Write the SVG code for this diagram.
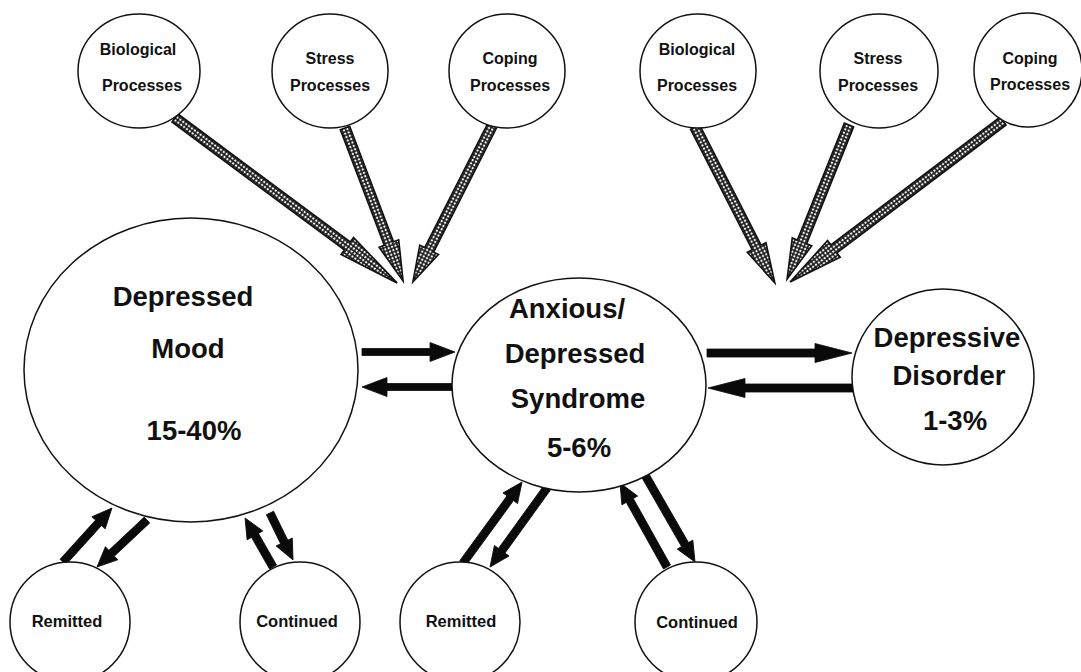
<svg xmlns="http://www.w3.org/2000/svg" width="1081" height="672" viewBox="0 0 1081 672">
  <defs>
    <style>
      .node { fill: #fff; stroke: #111; stroke-width: 1.5; }
      .sm { font-family: "Liberation Sans", Arial, sans-serif; font-weight: bold; font-size: 16px; fill: #111; text-anchor: middle; }
      .bt { font-family: "Liberation Sans", Arial, sans-serif; font-weight: bold; font-size: 16.5px; fill: #111; text-anchor: middle; }
      .lg { font-family: "Liberation Sans", Arial, sans-serif; font-weight: bold; font-size: 27.5px; fill: #111; text-anchor: middle; }
      .solid { fill: #0a0a0a; stroke: #0a0a0a; stroke-width: 0.8; stroke-linejoin: miter; }
      .dotted { fill: url(#dots); stroke: #111; stroke-width: 1.6; stroke-linejoin: miter; }
    </style>
    <!-- stippled fill for the influence arrows -->
    <pattern id="dots" patternUnits="userSpaceOnUse" width="3.6" height="3.6">
      <rect width="3.6" height="3.6" fill="#1c1c1c"/>
      <circle cx="1.8" cy="1.8" r="1.2" fill="#f6f6f6"/>
    </pattern>
  </defs>

  <rect width="1081" height="672" fill="#fff"/>

  <!-- influence arrows and transition arrows -->
  <g id="connectors">
    <!-- stippled arrows from process circles -->
    <g transform="translate(175 118) rotate(36.6)"><polygon class="dotted" points="0,-5 214.6,-5 214.6,-10.5 276.6,0 214.6,10.5 214.6,5 0,5"/></g>
    <g transform="translate(345 128) rotate(69.2)"><polygon class="dotted" points="0,-5 123.6,-5 123.6,-10.5 163.6,0 123.6,10.5 123.6,5 0,5"/></g>
    <g transform="translate(493 124) rotate(116.9)"><polygon class="dotted" points="0,-5 141.1,-5 141.1,-10.5 177.1,0 141.1,10.5 141.1,5 0,5"/></g>
    <g transform="translate(695 127) rotate(62.9)"><polygon class="dotted" points="0,-5 135.3,-5 135.3,-10.5 175.3,0 135.3,10.5 135.3,5 0,5"/></g>
    <g transform="translate(849 125) rotate(111.9)"><polygon class="dotted" points="0,-5 126,-5 126,-10.5 166,0 126,10.5 126,5 0,5"/></g>
    <g transform="translate(1003 121) rotate(142.9)"><polygon class="dotted" points="0,-5 212,-5 212,-10.5 267,0 212,10.5 212,5 0,5"/></g>

    <!-- horizontal transitions -->
    <polygon class="solid" points="362,348.5 430,348.5 430,342.5 455,352 430,361.5 430,355.5 362,355.5"/>
    <polygon class="solid" points="455,383.5 387,383.5 387,377.5 362,387 387,396.5 387,390.5 455,390.5"/>
    <polygon class="solid" points="707,349 815,349 815,343.5 852,353 815,362.5 815,357 707,357"/>
    <polygon class="solid" points="853,384 745,384 745,378.5 708,388 745,397.5 745,392 853,392"/>

    <!-- transitions to remitted / continued -->
    <g transform="translate(63 562) rotate(-47.8)"><polygon class="solid" points="0,-4 52.9,-4 52.9,-9 72.9,0 52.9,9 52.9,4 0,4"/></g>
    <g transform="translate(147 520) rotate(136.8)"><polygon class="solid" points="0,-4 48.6,-4 48.6,-9 68.6,0 48.6,9 48.6,4 0,4"/></g>
    <g transform="translate(273 567) rotate(-119.7)"><polygon class="solid" points="0,-4 36.4,-4 36.4,-9 56.4,0 36.4,9 36.4,4 0,4"/></g>
    <g transform="translate(270 513) rotate(63.9)"><polygon class="solid" points="0,-4 32.3,-4 32.3,-9 52.3,0 32.3,9 32.3,4 0,4"/></g>
    <g transform="translate(463 563) rotate(-53.9)"><polygon class="solid" points="0,-4 80.2,-4 80.2,-9 100.2,0 80.2,9 80.2,4 0,4"/></g>
    <g transform="translate(547 488) rotate(125.8)"><polygon class="solid" points="0,-4 77.4,-4 77.4,-9 97.4,0 77.4,9 77.4,4 0,4"/></g>
    <g transform="translate(667 567) rotate(-119.2)"><polygon class="solid" points="0,-4 76.3,-4 76.3,-9 96.3,0 76.3,9 76.3,4 0,4"/></g>
    <g transform="translate(645 475) rotate(60.1)"><polygon class="solid" points="0,-4 80.3,-4 80.3,-9 100.3,0 80.3,9 80.3,4 0,4"/></g>
  </g>

  <!-- process circles, first group -->
  <g id="bio1">
    <ellipse class="node" cx="139" cy="71" rx="61" ry="57"/>
    <text class="sm" x="138" y="55">Biological</text>
    <text class="sm" x="142" y="91">Processes</text>
  </g>
  <g id="stress1">
    <ellipse class="node" cx="330" cy="71" rx="58" ry="57"/>
    <text class="sm" x="330" y="64">Stress</text>
    <text class="sm" x="330" y="91">Processes</text>
  </g>
  <g id="coping1">
    <ellipse class="node" cx="507" cy="71" rx="58" ry="57"/>
    <text class="sm" x="510" y="64">Coping</text>
    <text class="sm" x="510" y="91">Processes</text>
  </g>

  <!-- process circles, second group -->
  <g id="bio2">
    <ellipse class="node" cx="698" cy="71" rx="58" ry="57"/>
    <text class="sm" x="697" y="55">Biological</text>
    <text class="sm" x="697" y="91">Processes</text>
  </g>
  <g id="stress2">
    <ellipse class="node" cx="879" cy="71" rx="59" ry="57"/>
    <text class="sm" x="878" y="64">Stress</text>
    <text class="sm" x="878" y="91">Processes</text>
  </g>
  <g id="coping2">
    <ellipse class="node" cx="1028" cy="70" rx="54" ry="57"/>
    <text class="sm" x="1030" y="64">Coping</text>
    <text class="sm" x="1030" y="90">Processes</text>
  </g>

  <!-- main states -->
  <g id="depressed-mood">
    <ellipse class="node" cx="191" cy="370" rx="167" ry="152"/>
    <text class="lg" x="183" y="306">Depressed</text>
    <text class="lg" x="188" y="358">Mood</text>
    <text class="lg" x="194" y="440">15-40%</text>
  </g>
  <g id="anxious-depressed">
    <ellipse class="node" cx="579" cy="385" rx="127" ry="107"/>
    <text class="lg" x="567" y="318">Anxious/</text>
    <text class="lg" x="575" y="363">Depressed</text>
    <text class="lg" x="578" y="408">Syndrome</text>
    <text class="lg" x="579" y="457">5-6%</text>
  </g>
  <g id="depressive-disorder">
    <ellipse class="node" cx="943" cy="377" rx="91" ry="88"/>
    <text class="lg" x="947" y="347">Depressive</text>
    <text class="lg" x="949" y="385">Disorder</text>
    <text class="lg" x="955" y="430">1-3%</text>
  </g>

  <!-- outcome circles -->
  <g id="remitted1">
    <ellipse class="node" cx="70" cy="622" rx="60" ry="60"/>
    <text class="bt" x="67" y="627">Remitted</text>
  </g>
  <g id="continued1">
    <ellipse class="node" cx="300" cy="622" rx="60" ry="60"/>
    <text class="bt" x="297" y="627">Continued</text>
  </g>
  <g id="remitted2">
    <ellipse class="node" cx="460" cy="622" rx="60" ry="60"/>
    <text class="bt" x="461" y="627">Remitted</text>
  </g>
  <g id="continued2">
    <ellipse class="node" cx="696" cy="622" rx="61" ry="60"/>
    <text class="bt" x="697" y="628">Continued</text>
  </g>
</svg>
